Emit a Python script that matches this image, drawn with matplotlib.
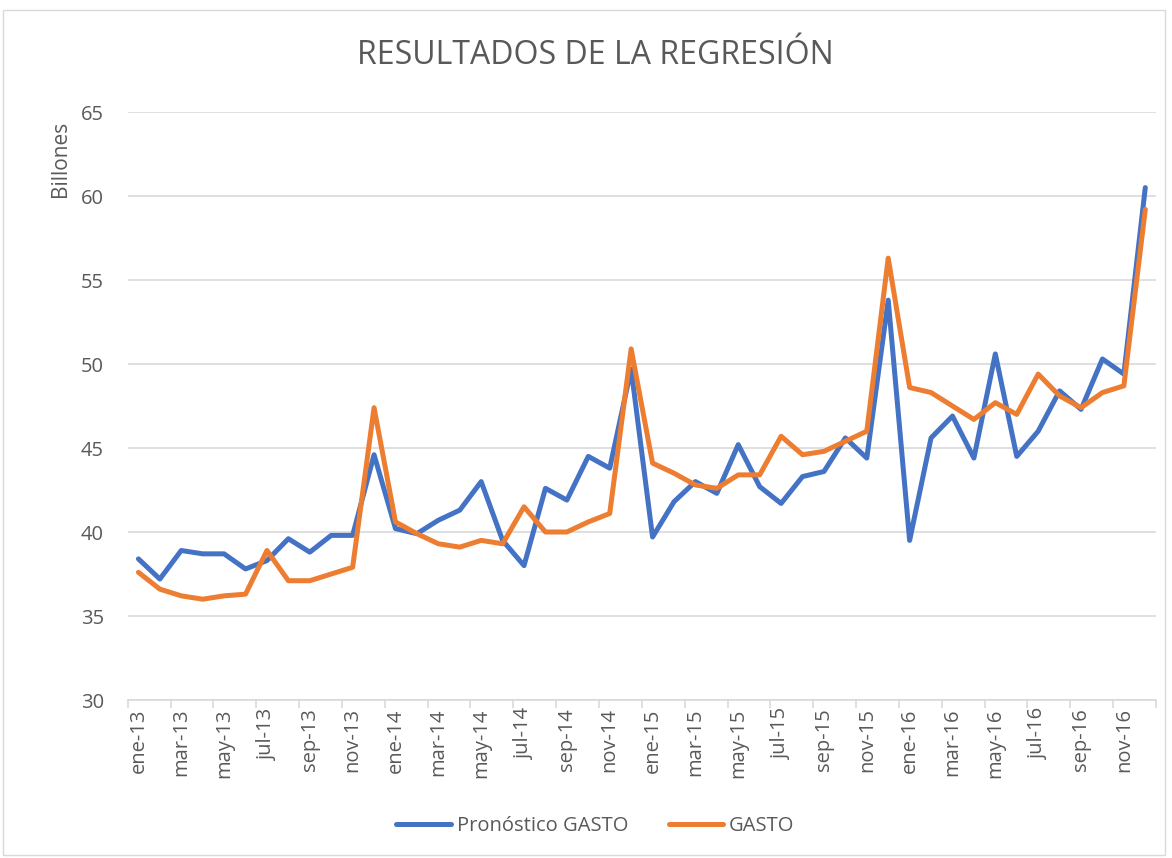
import matplotlib
matplotlib.use("Agg")
import matplotlib.pyplot as plt
from matplotlib.patches import Rectangle

meses = ["ene", "feb", "mar", "abr", "may", "jun", "jul", "ago", "sep", "oct", "nov", "dic"]
anios = ["13", "14", "15", "16"]
categorias = [f"{m}-{a}" for a in anios for m in meses]

pronostico = [38.4, 37.2, 38.9, 38.7, 38.7, 37.8, 38.3, 39.6, 38.8, 39.8, 39.8, 44.6,
              40.2, 39.9, 40.7, 41.3, 43.0, 39.5, 38.0, 42.6, 41.9, 44.5, 43.8, 49.7,
              39.7, 41.8, 43.0, 42.3, 45.2, 42.7, 41.7, 43.3, 43.6, 45.6, 44.4, 53.8,
              39.5, 45.6, 46.9, 44.4, 50.6, 44.5, 46.0, 48.4, 47.3, 50.3, 49.4, 60.5]
gasto = [37.6, 36.6, 36.2, 36.0, 36.2, 36.3, 38.9, 37.1, 37.1, 37.5, 37.9, 47.4,
         40.6, 39.9, 39.3, 39.1, 39.5, 39.3, 41.5, 40.0, 40.0, 40.6, 41.1, 50.9,
         44.1, 43.5, 42.8, 42.6, 43.4, 43.4, 45.7, 44.6, 44.8, 45.4, 46.0, 56.3,
         48.6, 48.3, 47.5, 46.7, 47.7, 47.0, 49.4, 48.1, 47.4, 48.3, 48.7, 59.2]
y_ticks = [30, 35, 40, 45, 50, 55, 60, 65]

gray = "#595959"
plt.rcParams['font.family'] = ['Open Sans', 'DejaVu Sans']

fig = plt.figure(figsize=(11.72, 8.58), dpi=100)
fig.patches.append(Rectangle((3/1172, 3/858), 1162/1172, 845/858, transform=fig.transFigure,
                             fill=False, edgecolor="#d9d9d9", linewidth=1))
ax = fig.add_axes([127.7/1172, 1 - 700/858, (1156 - 127.7)/1172, (700 - 112)/858])

x = list(range(len(categorias)))
ax.plot(x, pronostico, color="#4472C4", lw=3.6, solid_joinstyle="round", solid_capstyle="round",
        label="Pronóstico GASTO", zorder=3)
ax.plot(x, gasto, color="#ED7D31", lw=3.6, solid_joinstyle="round", solid_capstyle="round",
        label="GASTO", zorder=4)

ax.set_xlim(-0.5, len(categorias) - 0.5)
ax.set_ylim(30, 65)
ax.grid(axis="y", color="#d9d9d9", lw=1.2)
ax.set_axisbelow(True)
ax.set_yticks(y_ticks)
ax.set_yticklabels([str(v) for v in y_ticks], fontsize=14.5, color=gray)

ax.set_xticks(x[::2])
ax.set_xticklabels(categorias[::2], rotation=90, fontsize=14.5, color=gray)
ax.set_xticks([i - 0.5 for i in range(0, len(categorias) + 1, 2)], minor=True)

for s in ["top", "right", "left"]:
    ax.spines[s].set_visible(False)
ax.spines["bottom"].set_color("#d9d9d9")
ax.spines["bottom"].set_linewidth(1.2)

ax.tick_params(axis="y", which="major", length=0, pad=17)
ax.tick_params(axis="x", which="major", length=0, pad=6)
ax.tick_params(axis="x", which="minor", length=6, color="#d9d9d9", width=1.2)

fig.text(0.508, 1 - 55/858, "RESULTADOS DE LA REGRESIÓN", ha="center", va="center",
         fontsize=23, color=gray)
fig.text(60/1172, 1 - 159/858, "Billones", rotation=90, ha="center", va="center",
         fontsize=15, color=gray)

leg = fig.legend(loc="center", bbox_to_anchor=(0.508, 1 - 826/858), ncol=2, frameon=False,
                 fontsize=14.5, labelcolor=gray, handlelength=2.7, columnspacing=2.0,
                 handletextpad=0.3)

fig.savefig("out.png", dpi=100)
